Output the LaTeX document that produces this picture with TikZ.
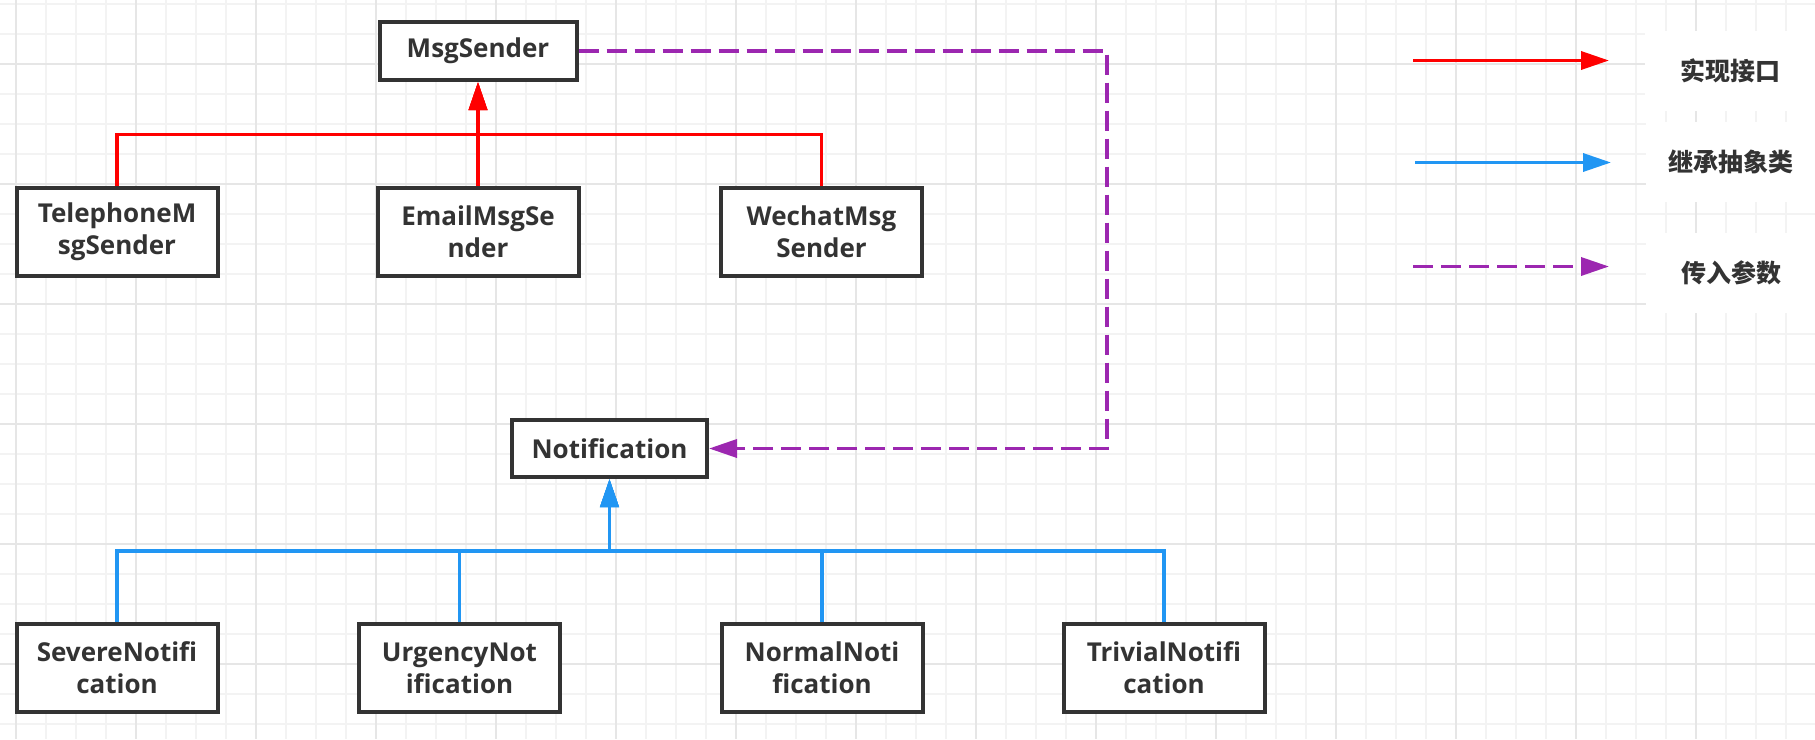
\documentclass[tikz,border=0pt]{standalone}
\usepackage{fontspec}
\setmainfont{Open Sans}
\newfontfamily\cjk{Noto Sans CJK SC}
\usetikzlibrary{arrows.meta}

\definecolor{boxline}{HTML}{333333}
\definecolor{implred}{HTML}{FF0000}
\definecolor{inhblue}{HTML}{2196F3}
\definecolor{parampurple}{HTML}{9C27B0}
\definecolor{gridminor}{HTML}{F3F3F3}
\definecolor{gridmajor}{HTML}{E6E6E6}

\tikzset{
  box/.style={draw=boxline, line width=4pt, fill=white, text=boxline,
    font=\fontsize{26}{32}\selectfont\bfseries, align=center, inner sep=0pt},
  onebox/.style={box, minimum width=197pt, minimum height=58pt},
  twobox/.style={box, minimum width=201pt, minimum height=88pt},
  impl/.style={draw=implred, line width=3.5pt, -{Triangle[length=28pt,width=18pt]}},
  inherit/.style={draw=inhblue, line width=3.5pt, -{Triangle[length=28pt,width=18pt]}},
  param/.style={draw=parampurple, line width=3.5pt, dash pattern=on 20pt off 8pt,
    -{Triangle[length=28pt,width=18pt]}},
  legendtext/.style={fill=white, text=boxline, minimum width=170pt, minimum height=80pt,
    font=\fontsize{25}{30}\selectfont\cjk\bfseries, inner sep=0pt},
}

\begin{document}
\begin{tikzpicture}[x=1pt, y=-1pt]
      \useasboundingbox[fill=white] (0,0) rectangle (1815,739);
      \foreach \gx in {16,46,...,1816}
        \draw[gridminor, line width=1.5pt] (\gx,0) -- (\gx,739);
      \foreach \gy in {4,34,...,739}
        \draw[gridminor, line width=1.5pt] (0,\gy) -- (1815,\gy);
      \foreach \gx in {16,136,...,1756}
        \draw[gridmajor, line width=2pt] (\gx,0) -- (\gx,739);
      \foreach \gy in {64,184,...,664}
        \draw[gridmajor, line width=2pt] (0,\gy) -- (1815,\gy);

      \node[onebox] (sender) at (478,51) {MsgSender};
      \node[twobox] (tel) at (117,232) {TelephoneM\\sgSender};
      \node[twobox] (email) at (478,232) {EmailMsgSe\\nder};
      \node[twobox] (wechat) at (821.5,232) {WechatMsg\\Sender};
      \node[box, minimum width=195pt, minimum height=57pt] (notif) at (609.5,448.5) {Notification};
      \node[twobox] (severe) at (117,668) {SevereNotifi\\cation};
      \node[twobox] (urgency) at (459.5,668) {UrgencyNot\\ification};
      \node[twobox] (normal) at (822,668) {NormalNoti\\fication};
      \node[twobox] (trivial) at (1164,668) {TrivialNotifi\\cation};

      \coordinate (rbus) at (sender.south |- 0,134.5);
      \coordinate (bbus) at (notif.south |- 0,551);
      \coordinate (pturn) at (1107,51);

      \draw[impl] (tel.north) |- (rbus) -- (sender.south);
      \draw[impl] (email.north) -- (sender.south);
      \draw[impl] (wechat.north) |- (rbus) -- (sender.south);

      \draw[inherit] (severe.north) |- (bbus) -- (notif.south);
      \draw[inherit] (urgency.north) |- (bbus) -- (notif.south);
      \draw[inherit] (normal.north) |- (bbus) -- (notif.south);
      \draw[inherit] (trivial.north) |- (bbus) -- (notif.south);

      \draw[param] (sender.east) -- (pturn) |- (notif.east);

      \coordinate (lgimpla) at (1413,60.5);
      \coordinate (lgimplb) at (1609,60.5);
      \coordinate (lginha) at (1415,162.5);
      \coordinate (lginhb) at (1611,162.5);
      \coordinate (lgparama) at (1413,266.5);
      \coordinate (lgparamb) at (1609,266.5);
      \draw[impl] (lgimpla) -- (lgimplb);
      \draw[inherit] (lginha) -- (lginhb);
      \draw[param] (lgparama) -- (lgparamb);
      \node[legendtext] (lgimpl) at (1730,71) {实现接口};
      \node[legendtext] (lginh) at (1731,162) {继承抽象类};
      \node[legendtext] (lgparam) at (1731,273) {传入参数};
    \end{tikzpicture}
\end{document}
